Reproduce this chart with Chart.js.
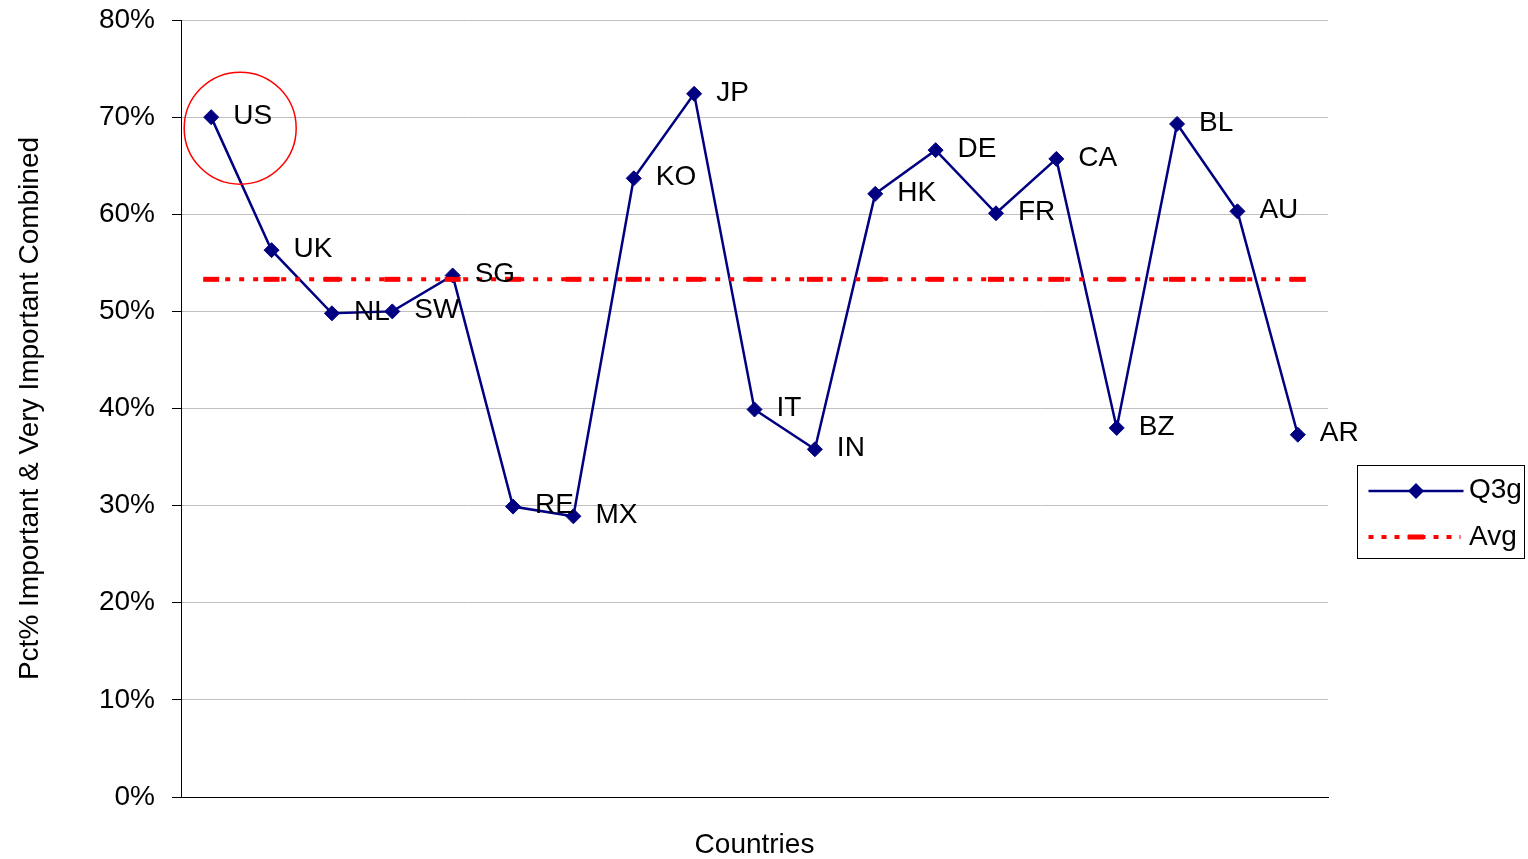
<!DOCTYPE html>
<html>
<head>
<meta charset="utf-8">
<title>Q3g by country</title>
<script src="https://cdn.jsdelivr.net/npm/chart.js@4/dist/chart.umd.min.js"></script>
<style>
  html, body { margin: 0; padding: 0; background: #fff; overflow: hidden; }
  canvas { display: block; }
</style>
</head>
<body>
<canvas id="chart" width="1528" height="859"></canvas>
<script>
// Country codes along the horizontal axis
const countries = ['US', 'UK', 'NL', 'SW', 'SG', 'RE', 'MX', 'KO', 'JP', 'IT',
                   'IN', 'HK', 'DE', 'FR', 'CA', 'BZ', 'BL', 'AU', 'AR'];

// Pct% Important & Very Important Combined, per country
const q3g = [70.0, 56.3, 49.8, 50.0, 53.7, 29.9, 28.9, 63.7, 72.4, 39.9,
             35.8, 62.1, 66.6, 60.1, 65.7, 38.0, 69.3, 60.3, 37.3];

// Average reference line
const avg = [53.3, 53.3, 53.3, 53.3, 53.3, 53.3, 53.3, 53.3, 53.3, 53.3,
             53.3, 53.3, 53.3, 53.3, 53.3, 53.3, 53.3, 53.3, 53.3];

// Y axis ticks (percent)
const yTicks = [0, 10, 20, 30, 40, 50, 60, 70, 80];

const FONT = "'Liberation Sans', Arial, Helvetica, sans-serif";
const FONT_SIZE = 28;
const NAVY = '#000080';
const RED = '#ff0000';

Chart.defaults.font.family = FONT;
Chart.defaults.color = '#000';

// Country names beside each point, plus the highlight ring on the first one
const pointLabels = {
  id: 'pointLabels',
  afterDatasetsDraw(chart) {
    const ctx = chart.ctx;
    const meta = chart.getDatasetMeta(0);
    ctx.save();
    ctx.font = FONT_SIZE + 'px ' + FONT;
    ctx.fillStyle = '#000';
    ctx.textAlign = 'left';
    ctx.textBaseline = 'middle';
    meta.data.forEach((pt, i) => {
      ctx.fillText(countries[i], pt.x + 22, pt.y - 1);
    });
    const first = meta.data[0];
    ctx.beginPath();
    ctx.arc(first.x + 29, first.y + 11, 56, 0, Math.PI * 2);
    ctx.strokeStyle = RED;
    ctx.lineWidth = 1.5;
    ctx.stroke();
    ctx.restore();
  }
};

// Boxed legend at the right of the plot
const boxLegend = {
  id: 'boxLegend',
  afterDraw(chart) {
    const ctx = chart.ctx;
    const area = chart.chartArea;
    const x0 = area.right + 29.5;
    const y0 = 465.5;
    ctx.save();
    ctx.strokeStyle = '#000';
    ctx.lineWidth = 1;
    ctx.strokeRect(x0, y0, 167, 93);

    // Q3g entry
    const yA = 491;
    ctx.beginPath();
    ctx.moveTo(x0 + 11, yA);
    ctx.lineTo(x0 + 106, yA);
    ctx.strokeStyle = NAVY;
    ctx.lineWidth = 2.5;
    ctx.stroke();
    ctx.fillStyle = NAVY;
    ctx.beginPath();
    ctx.moveTo(x0 + 58.5, yA - 8);
    ctx.lineTo(x0 + 66.5, yA);
    ctx.lineTo(x0 + 58.5, yA + 8);
    ctx.lineTo(x0 + 50.5, yA);
    ctx.closePath();
    ctx.fill();

    // Avg entry
    const yB = 537;
    ctx.beginPath();
    ctx.setLineDash([5, 8]);
    ctx.moveTo(x0 + 11, yB);
    ctx.lineTo(x0 + 103, yB);
    ctx.strokeStyle = RED;
    ctx.lineWidth = 4;
    ctx.stroke();
    ctx.setLineDash([]);
    ctx.fillStyle = RED;
    ctx.fillRect(x0 + 50.5, yB - 2.5, 16, 5);

    ctx.fillStyle = '#000';
    ctx.font = FONT_SIZE + 'px ' + FONT;
    ctx.textAlign = 'left';
    ctx.textBaseline = 'middle';
    ctx.fillText('Q3g', x0 + 111.5, yA - 1);
    ctx.fillText('Avg', x0 + 111.5, yB);
    ctx.restore();
  }
};

new Chart(document.getElementById('chart'), {
  type: 'line',
  data: {
    labels: countries,
    datasets: [
      {
        label: 'Q3g',
        data: q3g,
        order: 1,
        borderColor: NAVY,
        borderWidth: 2.5,
        backgroundColor: NAVY,
        pointStyle: 'rectRot',
        pointRadius: 7.5,
        pointBorderWidth: 1,
        pointBackgroundColor: NAVY,
        pointBorderColor: NAVY,
        tension: 0,
        fill: false
      },
      {
        label: 'Avg',
        data: avg,
        order: 0,
        borderColor: RED,
        borderWidth: 4,
        borderDash: [5, 9],
        pointStyle: 'line',
        pointRadius: 8,
        pointBorderWidth: 5,
        pointBorderColor: RED,
        pointBackgroundColor: RED,
        tension: 0,
        fill: false
      }
    ]
  },
  options: {
    responsive: false,
    animation: false,
    events: [],
    layout: { padding: { left: 0, right: 200, top: 20, bottom: 0 } },
    plugins: {
      legend: { display: false },
      tooltip: { enabled: false }
    },
    scales: {
      x: {
        type: 'category',
        offset: true,
        grid: { display: false },
        border: { display: true, color: '#000', width: 1 },
        ticks: { display: false },
        title: {
          display: true,
          text: 'Countries',
          font: { size: FONT_SIZE, lineHeight: 1 },
          color: '#000',
          padding: { top: 0, bottom: 0 }
        },
        afterFit(scale) {
          scale.height = 62;
          scale.paddingLeft = 0;
          scale.paddingRight = 0;
        }
      },
      y: {
        min: 0,
        max: 80,
        afterBuildTicks(scale) {
          scale.ticks = yTicks.map(v => ({ value: v }));
        },
        grid: {
          color: '#c0c0c0',
          lineWidth: 1,
          tickColor: '#000',
          tickLength: 9,
          drawTicks: true
        },
        border: { display: true, color: '#000', width: 1 },
        ticks: {
          padding: 17,
          font: { size: FONT_SIZE },
          color: '#000',
          callback: v => v + '%'
        },
        title: {
          display: true,
          text: 'Pct% Important & Very Important Combined',
          font: { size: FONT_SIZE, lineHeight: 1 },
          color: '#000',
          padding: { top: 16, bottom: 0 }
        },
        afterFit(scale) {
          scale.width = 181;
          scale.paddingTop = 0;
          scale.paddingBottom = 0;
        }
      }
    }
  },
  plugins: [pointLabels, boxLegend]
});
</script>
</body>
</html>
